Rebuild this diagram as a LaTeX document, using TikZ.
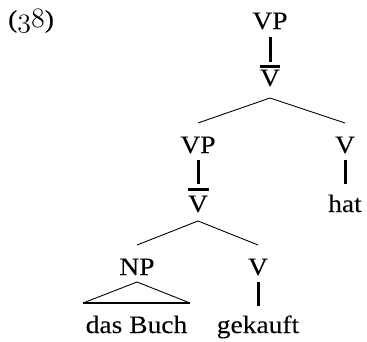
\RequirePackage{fix-cm}
\documentclass[tikz,border=0pt]{standalone}
\usepackage{fontspec}
\setmainfont{Liberation Serif}[FakeStretch=1.1,FakeBold=0.04]
\newcommand\osnums[1]{{\fontsize{28}{30}\usefont{OML}{cmm}{m}{it}#1}}
\begin{document}
\begin{tikzpicture}[x=1pt,y=1pt,
  lab/.style={anchor=base,inner sep=0pt,font=\fontsize{25}{30}\selectfont},
  edge/.style={line width=0.9pt},
  unary/.style={line width=3pt},
  barline/.style={line width=2.8pt},
  triside/.style={line width=0.9pt},
  tribase/.style={line width=2.4pt}]
\useasboundingbox (0,0) rectangle (367,341);
\node[lab,anchor=base west] (ex) at (8,313.5) {(\osnums{38})};
\node[lab] (vp1) at (270,312) {VP};
\node[lab] (vb1) at (270,255) {V};
\node[lab] (vp2) at (198,188) {VP};
\node[lab] (v1) at (345,188) {V};
\node[lab] (vb2) at (198,129) {V};
\node[lab] (hat) at (345,129) {hat};
\node[lab] (np) at (137,66) {NP};
\node[lab] (v2) at (258,66) {V};
\node[lab] (dasbuch) at (136.5,8) {das Buch};
\node[lab] (gekauft) at (258,8) {gekauft};
% unary branches
\draw[unary] ([yshift=-8pt]vp1.base) -- ([yshift=24pt]vb1.base);
\draw[unary] ([yshift=-7pt]vp2.base) -- ([yshift=28pt]vb2.base);
\draw[unary] ([yshift=-7pt]v1.base) -- ([yshift=28pt]hat.base);
\draw[unary] ([yshift=-7pt]v2.base) -- ([yshift=27pt]gekauft.base);
% bars
\draw[barline] ([xshift=-10pt,yshift=19.5pt]vb1.base) -- ([xshift=10pt,yshift=19.5pt]vb1.base);
\draw[barline] ([xshift=-10.5pt,yshift=22.5pt]vb2.base) -- ([xshift=10.5pt,yshift=22.5pt]vb2.base);
% binary branches
\draw[edge] ([yshift=30pt]vp2.base) -- ([yshift=-12pt]vb1.base) -- ([yshift=30pt]v1.base);
\draw[edge] ([yshift=30pt]np.base) -- ([yshift=-9pt]vb2.base) -- ([yshift=30pt]v2.base);
% triangle
\draw[triside] ([xshift=-53.5pt,yshift=30pt]dasbuch.base) -- ([yshift=-7pt]np.base) -- ([xshift=53.5pt,yshift=30pt]dasbuch.base);
\draw[tribase] ([xshift=-53.5pt,yshift=30pt]dasbuch.base) -- ([xshift=53.5pt,yshift=30pt]dasbuch.base);
\end{tikzpicture}
\end{document}
